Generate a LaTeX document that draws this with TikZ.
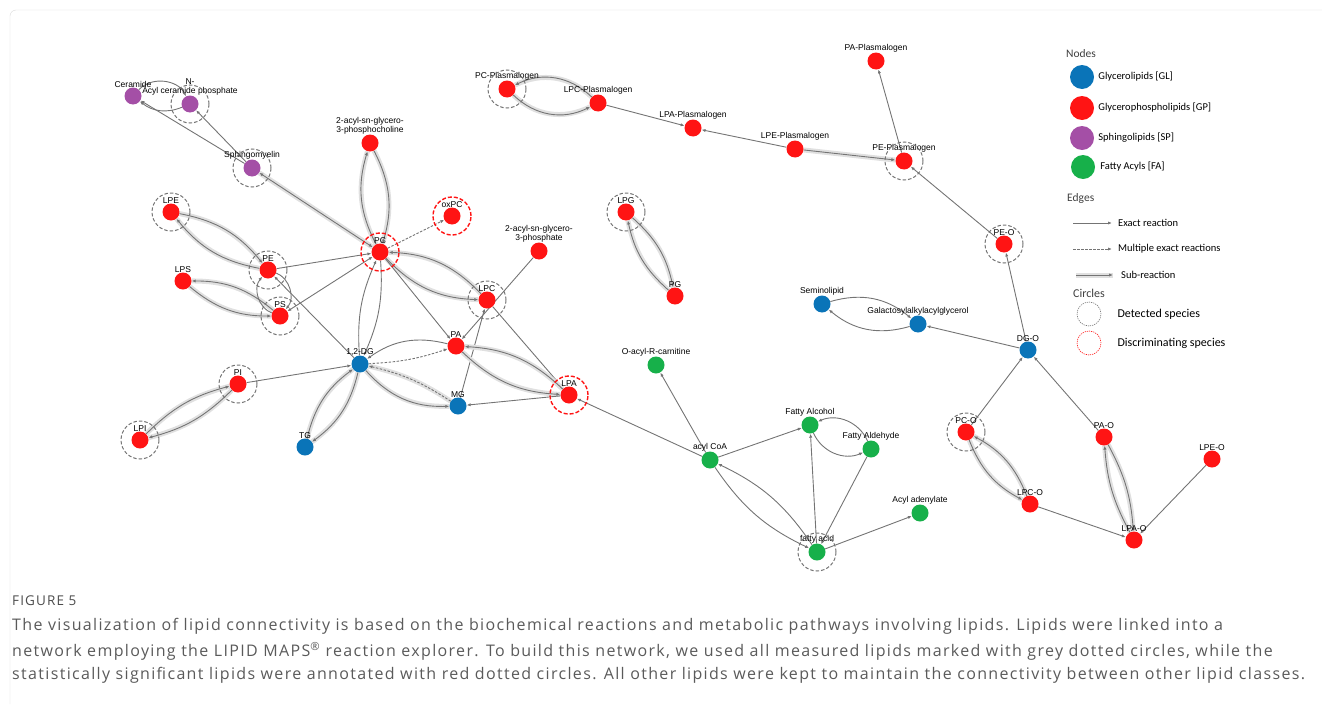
\documentclass[tikz,border=0pt]{standalone}
\usepackage{fontspec}
\setmainfont{Liberation Sans}
\newfontfamily\legendfont{Carlito}
\newfontfamily\capfont[LetterSpace=8.4]{Open Sans}
\usetikzlibrary{arrows.meta,positioning}
\pgfdeclarelayer{edges}
\pgfsetlayers{edges,main}
\definecolor{glblue}{HTML}{0A74B8}
\definecolor{gpred}{HTML}{FF1414}
\definecolor{sppurple}{HTML}{A44FA6}
\definecolor{fagreen}{HTML}{17B04A}
\definecolor{edgegray}{HTML}{747474}
\definecolor{halogray}{HTML}{E0E0E0}
\definecolor{capgray}{HTML}{5A5A5A}
\tikzset{
  lbl/.style={font=\fontsize{8.5}{9.5}\selectfont, inner sep=1pt, align=center, yshift=-1.5pt},
  lipid/.style={circle, inner sep=0pt, minimum size=17pt, label={[lbl]90:{#1}}},
  gl/.style={lipid={#1}, fill=glblue},
  gp/.style={lipid={#1}, fill=gpred},
  sp/.style={lipid={#1}, fill=sppurple},
  fa/.style={lipid={#1}, fill=fagreen},
  exact/.style={draw=edgegray, line width=0.9pt, -{Latex[length=4pt,width=3.2pt]}},
  multi/.style={exact, dash pattern=on 2.5pt off 1.5pt},
  halo/.style={preaction={draw=halogray, line width=5pt, -}},
  sub/.style={exact, halo},
  detcircle/.style={draw=edgegray, line width=1pt, dash pattern=on 3.5pt off 2pt},
  disccircle/.style={draw=gpred, line width=1.4pt, dash pattern=on 4pt off 2pt},
  legtxt/.style={font=\legendfont\fontsize{10.5}{12}\selectfont, inner sep=0pt, anchor=west},
  leghead/.style={font=\legendfont\fontsize{11.5}{13}\selectfont, text=black!75, inner sep=0pt, anchor=west},
  captxt/.style={font=\capfont\fontsize{16}{18}\selectfont, text=capgray, inner sep=0pt, anchor=west}
}
\begin{document}
\begin{tikzpicture}[x=1pt, y=1pt]
\useasboundingbox (0,0) rectangle (1322,-704);
\draw[gray!30, rounded corners=6pt] (10,-704) |- (1322,-10);

% sphingolipids
\node[sp=Ceramide] (Cer) at (133,-96) {};
\node[sp={N-\\Acyl ceramide phosphate}] (NAcyl) at (190,-104) {};
\node[sp=Sphingomyelin] (SM) at (252,-168) {};
% glycerophospholipids
\node[gp={2-acyl-sn-glycero-\\3-phosphocholine}] (aPC) at (370,-143) {};
\node[gp=oxPC] (oxPC) at (452,-216) {};
\node[gp=PC] (PC) at (380,-252) {};
\node[gp=LPE] (LPE) at (171,-212) {};
\node[gp=PE] (PE) at (268,-270) {};
\node[gp=LPS] (LPS) at (183,-281) {};
\node[gp=PS] (PS) at (280,-316) {};
\node[gp=PA] (PA) at (456,-346) {};
\node[gp=LPC] (LPC) at (487,-300) {};
\node[gp={2-acyl-sn-glycero-\\3-phosphate}] (aPA) at (539,-251) {};
\node[gp=LPA] (LPA) at (569,-395) {};
\node[gp=PI] (PI) at (238,-384) {};
\node[gp=LPI] (LPI) at (140,-440) {};
\node[gp=PC-Plasmalogen] (PCpl) at (507,-89) {};
\node[gp=LPC-Plasmalogen] (LPCpl) at (598,-103) {};
\node[gp=LPA-Plasmalogen] (LPApl) at (693,-128) {};
\node[gp=LPE-Plasmalogen] (LPEpl) at (795,-149) {};
\node[gp=PE-Plasmalogen] (PEpl) at (904,-161) {};
\node[gp=PA-Plasmalogen] (PApl) at (876,-61) {};
\node[gp=LPG] (LPG) at (626,-212) {};
\node[gp=PG] (PG) at (675,-296) {};
\node[gp=PE-O] (PEO) at (1004,-244) {};
\node[gp=PC-O] (PCO) at (966,-432) {};
\node[gp=LPC-O] (LPCO) at (1030,-504) {};
\node[gp=PA-O] (PAO) at (1104,-437) {};
\node[gp=LPA-O] (LPAO) at (1134,-540) {};
\node[gp=LPE-O] (LPEO) at (1212,-459) {};
% glycerolipids
\node[gl={1,2-DG}] (DG) at (360,-364) {};
\node[gl=MG] (MG) at (458,-406) {};
\node[gl=TG] (TG) at (305,-447) {};
\node[gl=Seminolipid] (Semi) at (822,-304) {};
\node[gl=Galactosylalkylacylglycerol] (Gal) at (918,-324) {};
\node[gl=DG-O] (DGO) at (1028,-350) {};
% fatty acyls
\node[fa=O-acyl-R-carnitine] (OAc) at (656,-365) {};
\node[fa=acyl CoA] (CoA) at (710,-460) {};
\node[fa=Fatty Alcohol] (FAlc) at (810,-425) {};
\node[fa=Fatty Aldehyde] (FAld) at (871,-449) {};
\node[fa=fatty acid] (FA) at (817,-552) {};
\node[fa=Acyl adenylate] (AcAd) at (920,-513) {};

\foreach \n in {NAcyl,SM,LPE,PE,PS,PI,LPI,LPC,PCpl,PEpl,LPG,PEO,PCO,FA}
  \draw[detcircle] (\n) circle (19);
\foreach \n in {PC,oxPC,LPA}
  \draw[disccircle] (\n) circle (19);

\begin{pgfonlayer}{edges}
% sphingolipid reactions
\draw[exact] (SM) -- (Cer);
\draw[exact] (SM) -- (NAcyl);
\draw[exact] (Cer) to[bend left=55] (NAcyl);
\draw[exact] (NAcyl) to[bend left=30] (Cer);
\draw[sub, {Latex[length=4pt,width=3.2pt]}-{Latex[length=4pt,width=3.2pt]}] (PC) -- (SM);
% around PC
\draw[sub] (aPC) to[bend left=22] (PC);
\draw[sub] (PC) to[bend left=22] (aPC);
\draw[multi] (PC) -- (oxPC);
\draw[sub] (LPE) to[bend left=20] (PE);
\draw[sub] (PE) to[bend left=20] (LPE);
\draw[exact] (PE) -- (PC);
\draw[sub] (LPS) to[bend right=20] (PS);
\draw[sub] (PS) to[bend right=20] (LPS);
\draw[exact] (PS) to[bend left=55] (PE);
\draw[exact] (PE) to[bend left=55] (PS);
\draw[exact] (DG) -- (PE);
\draw[exact, {Latex[length=4pt,width=3.2pt]}-{Latex[length=4pt,width=3.2pt]}] (PS) -- (PC);
\draw[exact] (PC) to[bend left=14] (DG);
\draw[exact] (DG) to[bend left=14] (PC);
\draw[sub] (PC) to[bend right=22] (LPC);
\draw[sub] (LPC) to[bend right=22] (PC);
\draw[exact] (PC) -- (PA);
\draw[exact] (aPA) -- (PA);
\draw[exact] (LPC) -- (LPA);
\draw[exact] (MG) -- (LPC);
\draw[exact] (PA) to[bend right=25] (DG);
\draw[multi] (DG) to[bend right=8] (PA);
\draw[sub] (DG) to[bend right=25] (MG);
\draw[multi, halo] (MG) to[bend right=10] (DG);
\draw[sub] (LPA) to[bend right=20] (PA);
\draw[sub] (PA) to[bend right=20] (LPA);
\draw[exact] (LPA) -- (MG);
\draw[exact] (CoA) -- (LPA);
\draw[sub] (DG) to[bend left=20] (TG);
\draw[sub] (TG) to[bend left=20] (DG);
\draw[exact] (PI) -- (DG);
\draw[sub] (LPI) to[bend left=15] (PI);
\draw[sub] (PI) to[bend left=15] (LPI);
\draw[sub] (LPG) to[bend left=18] (PG);
\draw[sub] (PG) to[bend left=18] (LPG);
% plasmalogens and ether lipids
\draw[sub] (LPCpl) to[bend right=35] (PCpl);
\draw[sub] (PCpl) to[bend right=35] (LPCpl);
\draw[exact] (LPCpl) -- (LPApl);
\draw[exact] (LPEpl) -- (LPApl);
\draw[sub] (LPEpl) -- (PEpl);
\draw[exact] (PEpl) -- (PApl);
\draw[exact] (PEO) -- (PEpl);
\draw[exact] (DGO) -- (PEO);
\draw[exact] (DGO) -- (Gal);
\draw[exact] (Semi) to[bend left=28] (Gal);
\draw[exact] (Gal) to[bend left=28] (Semi);
\draw[exact] (PCO) -- (DGO);
\draw[exact] (PAO) -- (DGO);
\draw[sub] (PCO) to[bend right=20] (LPCO);
\draw[sub] (LPCO) to[bend right=20] (PCO);
\draw[exact] (LPCO) -- (LPAO);
\draw[sub] (PAO) to[bend left=12] (LPAO);
\draw[sub] (LPAO) to[bend left=12] (PAO);
\draw[exact] (LPEO) -- (LPAO);
% fatty acyls
\draw[exact] (CoA) -- (OAc);
\draw[exact] (CoA) -- (FAlc);
\draw[exact] (FAlc) to[bend right=45] (FAld);
\draw[exact] (FAld) to[bend right=45] (FAlc);
\draw[exact] (FA) -- (FAlc);
\draw[exact] (FAld) -- (FA);
\draw[exact] (FA) to[bend right=15] (CoA);
\draw[exact] (CoA) to[bend right=15] (FA);
\draw[exact] (FA) -- (AcAd);
\end{pgfonlayer}

% legend
\node[leghead] (hNodes) at (1066,-54) {Nodes};
\node[circle, fill=glblue, minimum size=24pt, inner sep=0pt] (kGL) at (1082,-77) {};
\node[circle, fill=gpred, minimum size=24pt, inner sep=0pt] (kGP) at (1082,-108) {};
\node[circle, fill=sppurple, minimum size=24pt, inner sep=0pt] (kSP) at (1082,-138) {};
\node[circle, fill=fagreen, minimum size=24pt, inner sep=0pt] (kFA) at (1083,-167) {};
\node[legtxt, right=4pt of kGL] {Glycerolipids [GL]};
\node[legtxt, right=4pt of kGP] {Glycerophospholipids [GP]};
\node[legtxt, right=4pt of kSP] {Sphingolipids [SP]};
\node[legtxt, right=5pt of kFA] {Fatty Acyls [FA]};
\node[leghead] (hEdges) at (1067,-198) {Edges};
\coordinate (eA1) at (1073,-223); \coordinate (eA2) at (1112,-223);
\coordinate (eB1) at (1073,-249); \coordinate (eB2) at (1112,-249);
\coordinate (eC1) at (1076,-275); \coordinate (eC2) at (1113,-275);
\draw[exact] (eA1) -- (eA2);
\draw[multi] (eB1) -- (eB2);
\draw[sub] (eC1) -- (eC2);
\node[legtxt, right=6pt of eA2] {Exact reaction};
\node[legtxt, right=6pt of eB2] {Multiple exact reactions};
\node[legtxt, right=8pt of eC2] {Sub-reaction};
\node[leghead, font=\legendfont\fontsize{12}{14}\selectfont] (hCircles) at (1073,-293) {Circles};
\node[circle, minimum size=24pt, inner sep=0pt, draw=edgegray, dash pattern=on 1.2pt off 1pt, line width=0.6pt] (kDet) at (1089,-314) {};
\node[circle, minimum size=24pt, inner sep=0pt, draw=gpred, dash pattern=on 1.2pt off 1pt, line width=0.6pt] (kDisc) at (1089,-343) {};
\node[legtxt, font=\legendfont\fontsize{12}{14}\selectfont, right=16pt of kDet] {Detected species};
\node[legtxt, font=\legendfont\fontsize{12}{14}\selectfont, right=16pt of kDisc] {Discriminating species};

% caption
\node[captxt, font=\capfont\fontsize{13.5}{15}\selectfont, text=black!70] (fig) at (12,-601) {FIGURE 5};
\node[captxt] (cap1) at (12,-626) {The visualization of lipid connectivity is based on the biochemical reactions and metabolic pathways involving lipids. Lipids were linked into a};
\node[captxt] (cap2) at (12,-651) {network employing the LIPID MAPS\textsuperscript{®} reaction explorer. To build this network, we used all measured lipids marked with grey dotted circles, while the};
\node[captxt] (cap3) at (12,-675) {statistically significant lipids were annotated with red dotted circles. All other lipids were kept to maintain the connectivity between other lipid classes.};
\end{tikzpicture}
\end{document}
